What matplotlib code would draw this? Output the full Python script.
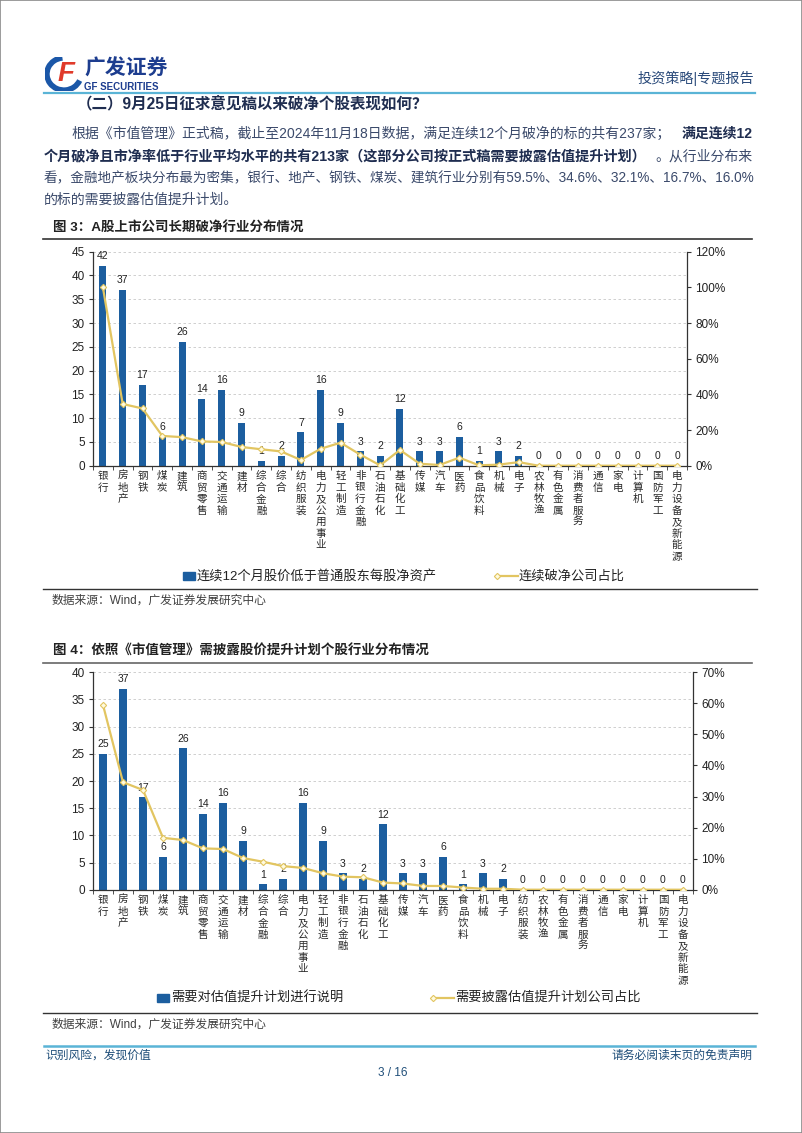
import matplotlib
matplotlib.use('Agg')
import matplotlib.pyplot as plt
import numpy as np
from matplotlib.patches import Rectangle, Arc
from matplotlib.lines import Line2D

plt.rcParams['font.family'] = ['Liberation Sans', 'Noto Sans CJK SC']

# 图3: 连续12个月破净的行业分布
cats3 = ['银行', '房地产', '钢铁', '煤炭', '建筑', '商贸零售', '交通运输', '建材', '综合金融', '综合',
         '纺织服装', '电力及公用事业', '轻工制造', '非银行金融', '石油石化', '基础化工', '传媒', '汽车',
         '医药', '食品饮料', '机械', '电子', '农林牧渔', '有色金属', '消费者服务', '通信', '家电',
         '计算机', '国防军工', '电力设备及新能源']
cnt3 = [42, 37, 17, 6, 26, 14, 16, 9, 1, 2, 7, 16, 9, 3, 2, 12, 3, 3, 6, 1, 3, 2, 0, 0, 0, 0, 0, 0, 0, 0]
pct3 = [100.0, 34.6, 32.1, 16.7, 16.0, 13.6, 13.3, 10.5, 9.2, 8.0, 3.2, 9.5, 12.9, 6.2, 0.2, 8.8, 1.1, 0.4,
        4.5, 0.2, 0.6, 2.0, 0, 0, 0, 0, 0, 0, 0, 0]

# 图4: 需披露估值提升计划的行业分布
cats4 = ['银行', '房地产', '钢铁', '煤炭', '建筑', '商贸零售', '交通运输', '建材', '综合金融', '综合',
         '电力及公用事业', '轻工制造', '非银行金融', '石油石化', '基础化工', '传媒', '汽车', '医药',
         '食品饮料', '机械', '电子', '纺织服装', '农林牧渔', '有色金属', '消费者服务', '通信', '家电',
         '计算机', '国防军工', '电力设备及新能源']
cnt4 = [25, 37, 17, 6, 26, 14, 16, 9, 1, 2, 16, 9, 3, 2, 12, 3, 3, 6, 1, 3, 2, 0, 0, 0, 0, 0, 0, 0, 0, 0]
pct4 = [59.5, 34.6, 32.1, 16.7, 16.0, 13.3, 13.1, 10.2, 9.0, 7.6, 7.0, 5.3, 4.2, 4.0, 2.3, 2.0, 1.2, 1.2,
        0.7, 0.3, 0.3, 0, 0, 0, 0, 0, 0, 0, 0, 0]

W, H = 802, 1133
BLUE = '#1c5e9f'
GOLD = '#e2c561'
NAVY = '#1f2d50'
BODY = '#3b4a6b'

fig = plt.figure(figsize=(W / 100, H / 100), dpi=100)


def fx(x):
    return x / W


def fy(y):
    return 1 - y / H


def text(x, y, s, **kw):
    kw.setdefault('va', 'center')
    return fig.text(fx(x), fy(y), s, **kw)


def hline(x0, x1, y, color, lw):
    fig.add_artist(Line2D([fx(x0), fx(x1)], [fy(y), fy(y)], color=color, lw=lw))


def bar_line(box, cats, cnt, pct, ymax, ystep, pmax, pstep):
    left, top, right, bottom = box
    ax = fig.add_axes([fx(left), fy(bottom), (right - left) / W, (bottom - top) / H])
    x = np.arange(len(cats))
    ax.bar(x, cnt, width=0.36, color=BLUE, zorder=2)
    for xi, v in zip(x, cnt):
        ax.annotate(str(v), (xi, v), xytext=(0, 7), textcoords='offset points',
                    ha='center', va='center', fontsize=7.5, color='#222222')
    ax.set_xlim(-0.5, len(cats) - 0.5)
    ax.set_ylim(0, ymax)
    ax.set_yticks(np.arange(0, ymax + 1, ystep))
    ax.yaxis.grid(True, ls=(0, (3, 3)), color='#c8c8c8', lw=0.6)
    ax.set_axisbelow(True)
    ax.set_xticks(x)
    ax.set_xticklabels(['\n'.join(c) for c in cats], fontsize=7.6, linespacing=1.18,
                       va='top', color='#2a2a2a')
    ax.tick_params(axis='x', which='major', length=0, pad=4)
    ax.set_xticks(np.arange(-0.5, len(cats)), minor=True)
    ax.tick_params(axis='x', which='minor', length=3, color='#333333')
    ax.tick_params(axis='y', length=3, pad=3, labelsize=8.5, color='#333333', labelcolor='#222222')
    for s in ['top', 'right']:
        ax.spines[s].set_visible(False)
    for s in ['left', 'bottom']:
        ax.spines[s].set_color('#333333')
        ax.spines[s].set_linewidth(0.9)

    ax2 = ax.twinx()
    ax2.plot(x, pct, color=GOLD, lw=1.6, marker='D', ms=3.2, mfc='#fffbe0', mec=GOLD, mew=0.8, zorder=3)
    ax2.set_ylim(0, pmax)
    ax2.set_yticks(np.arange(0, pmax + 1, pstep))
    ax2.set_yticklabels([f'{int(v)}%' for v in np.arange(0, pmax + 1, pstep)])
    ax2.tick_params(axis='y', length=3, pad=3, labelsize=8.5, color='#333333', labelcolor='#222222')
    for s in ['top', 'left', 'bottom']:
        ax2.spines[s].set_visible(False)
    ax2.spines['right'].set_color('#333333')
    ax2.spines['right'].set_linewidth(0.9)
    return ax


def legend(y, rx, label1, lx, label2):
    fig.add_artist(Rectangle((fx(rx), fy(y + 4)), 12 / W, 8 / H, color=BLUE))
    text(rx + 14, y, label1, fontsize=9.5, color='#222222')
    fig.add_artist(Line2D([fx(lx), fx(lx + 21)], [fy(y), fy(y)], color=GOLD, lw=1.6,
                          marker='D', ms=3.2, mfc='#fffbe0', mec=GOLD, mew=0.8, markevery=[0]))
    text(lx + 22, y, label2, fontsize=9.5, color='#222222')


# page border
fig.add_artist(Rectangle((0, 0), 1, 1, transform=fig.transFigure, fill=False, ec='#8a8a8a', lw=1.2))

# header logo
lax = fig.add_axes([fx(45), fy(91), 38 / W, 34 / H])
lax.set_xlim(0, 1)
lax.set_ylim(0, 1)
lax.axis('off')
lax.add_patch(Arc((0.5, 0.5), 0.9, 0.95, theta1=95, theta2=335, color='#1b57a8', lw=4))
lax.text(0.55, 0.5, 'F', fontsize=20, fontweight='bold', style='italic', color='#e03a2a',
         ha='center', va='center')
text(84, 69, '广发证券', fontsize=15, fontweight='bold', color='#1d3d8f')
text(84, 86.5, 'GF SECURITIES', fontsize=7, fontweight='bold', color='#1d3d8f')
text(754, 78.5, '投资策略|专题报告', fontsize=10.2, color='#2a4a7a', ha='right')
hline(43.5, 754.5, 92.5, '#5ab4d6', 1.6)

# section heading and paragraph
text(77, 103.5, '（二）9月25日征求意见稿以来破净个股表现如何？', fontsize=11.2, fontweight='bold', color=NAVY)
text(71.6, 133.5, '根据《市值管理》正式稿，截止至2024年11月18日数据，满足连续12个月破净的标的共有237家；',
     fontsize=10.0, color=BODY)
text(753, 133.5, '满足连续12', fontsize=10.0, fontweight='bold', color=NAVY, ha='right')
text(43.5, 156.5, '个月破净且市净率低于行业平均水平的共有213家（这部分公司按正式稿需要披露估值提升计划）',
     fontsize=10.2, fontweight='bold', color=NAVY)
text(753, 156.5, '。从行业分布来', fontsize=10.0, color=BODY, ha='right')
text(43.5, 178.5, '看，金融地产板块分布最为密集，银行、地产、钢铁、煤炭、建筑行业分别有59.5%、34.6%、32.1%、16.7%、16.0%',
     fontsize=9.8, color=BODY)
text(43.5, 200, '的标的需要披露估值提升计划。', fontsize=10.0, color=BODY)

# 图3
text(53, 227, '图 3：A股上市公司长期破净行业分布情况', fontsize=9.7, fontweight='bold', color='#222222')
hline(43, 752, 238.5, '#333333', 1.2)
bar_line((93, 251.7, 687, 465.7), cats3, cnt3, pct3, 45, 5, 120, 20)
legend(576, 183, '连续12个月股价低于普通股东每股净资产', 497, '连续破净公司占比')
hline(43, 757, 589, '#333333', 1.0)
text(52, 601, '数据来源：Wind，广发证券发展研究中心', fontsize=8.5, color='#404040')

# 图4
text(53, 651.5, '图 4：依照《市值管理》需披露股价提升计划个股行业分布情况', fontsize=9.7, fontweight='bold',
     color='#222222')
hline(43, 752, 662.5, '#666666', 1.2)
bar_line((93, 672.3, 693, 889.7), cats4, cnt4, pct4, 40, 5, 70, 10)
legend(998, 157, '需要对估值提升计划进行说明', 433, '需要披露估值提升计划公司占比')
hline(43, 757, 1013.3, '#333333', 1.0)
text(52, 1025, '数据来源：Wind，广发证券发展研究中心', fontsize=8.5, color='#404040')

# footer
hline(43.5, 754.5, 1045.7, '#5ab4d6', 1.8)
text(45, 1056, '识别风险，发现价值', fontsize=8.5, color='#1f4e79')
text(753, 1056, '请务必阅读末页的免责声明', fontsize=8.5, color='#1f4e79', ha='right')
text(392.5, 1073, '3 / 16', fontsize=8.5, color='#1f4e79', ha='center')

fig.savefig('out.png', dpi=100)
